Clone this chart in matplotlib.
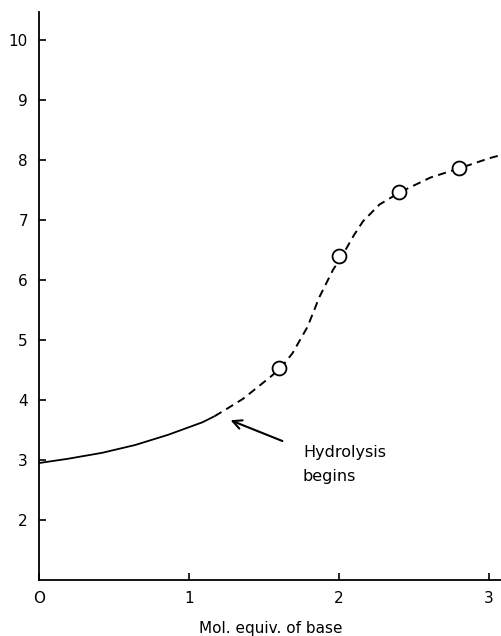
import matplotlib.pyplot as plt

# Curve
solid_x = [0.0, 0.19, 0.42, 0.64, 0.86, 1.09, 1.17]
solid_y = [2.95, 3.02, 3.12, 3.25, 3.42, 3.63, 3.73]
dash_x = [1.17, 1.25, 1.36, 1.54, 1.61, 1.69, 1.79, 1.87, 1.96, 2.02, 2.1,
          2.16, 2.27, 2.41, 2.61, 2.81, 3.0, 3.087]
dash_y = [3.73, 3.85, 4.02, 4.38, 4.53, 4.78, 5.22, 5.72, 6.17, 6.4, 6.75,
          6.98, 7.26, 7.47, 7.71, 7.87, 8.03, 8.09]

# Measured points
pts_x = [1.6, 2.0, 2.4, 2.8]
pts_y = [4.53, 6.4, 7.47, 7.87]

xticks = [0, 1, 2, 3]
xtick_labels = ['O', '1', '2', '3']
yticks = [2, 3, 4, 5, 6, 7, 8, 9, 10]

fig = plt.figure(figsize=(5.02, 6.36), dpi=100)
ax = fig.add_axes([39 / 502, 56 / 636, 463 / 502, 568 / 636])

ax.plot(solid_x, solid_y, color='black', lw=1.3, solid_capstyle='butt')
ax.plot(dash_x, dash_y, color='black', lw=1.4, dashes=(4.2, 2.8))
ax.plot(pts_x, pts_y, 'o', ms=10, mfc='white', mec='black', mew=1.3)

ax.annotate('', xy=(1.26, 3.68), xytext=(1.64, 3.3),
            arrowprops=dict(arrowstyle='->', color='black', lw=1.5,
                            mutation_scale=16))
ax.text(1.76, 3.25, 'Hydrolysis\nbegins', fontsize=11.5, va='top', ha='left',
        linespacing=1.75)

ax.set_xlim(0, 3.087)
ax.set_ylim(1, 10.47)
ax.set_xticks(xticks)
ax.set_xticklabels(xtick_labels)
ax.set_yticks(yticks)
ax.tick_params(direction='in', length=5, width=1.2, labelsize=11, pad=8)
for s in ['top', 'right']:
    ax.spines[s].set_visible(False)
for s in ['left', 'bottom']:
    ax.spines[s].set_linewidth(1.3)
ax.set_xlabel('Mol. equiv. of base', fontsize=11, labelpad=11)

plt.savefig('out.png', dpi=100)
